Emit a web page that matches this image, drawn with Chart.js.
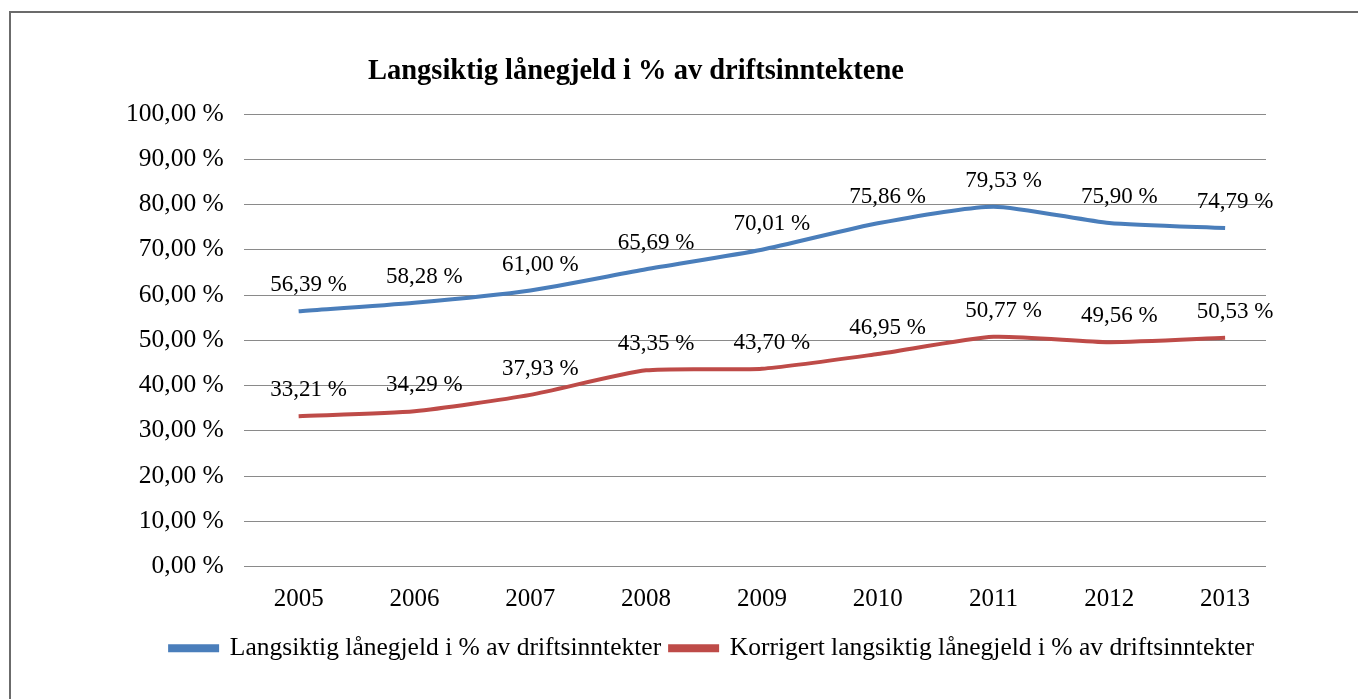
<!DOCTYPE html>
<html lang="no">
<head>
    <meta charset="UTF-8">
    <title>Langsiktig lånegjeld i % av driftsinntektene</title>
    <script src="https://cdn.jsdelivr.net/npm/chart.js@4/dist/chart.umd.min.js"></script>
    <style>
        body {
            margin: 0;
            background: #fff;
            overflow: hidden;
        }
        #wrap {
            position: absolute;
            left: 9px;
            top: 11px;
            width: 1402px;
            height: 700px;
            border-top: 2px solid #6b6b6b;
            border-left: 2px solid #6b6b6b;
        }
    </style>
</head>
<body>
    <div id="wrap"><canvas id="chart" width="1402" height="700"></canvas></div>

    <script>
        const years = [2005, 2006, 2007, 2008, 2009, 2010, 2011, 2012, 2013];
        const gjeld = [56.39, 58.28, 61.00, 65.69, 70.01, 75.86, 79.53, 75.90, 74.79];
        const korrigert = [33.21, 34.29, 37.93, 43.35, 43.70, 46.95, 50.77, 49.56, 50.53];
        const yTicks = [0, 10, 20, 30, 40, 50, 60, 70, 80, 90, 100];

        const serif = '"Liberation Serif", "Times New Roman", serif';
        const pct = v => v.toFixed(2).replace('.', ',') + ' %';

        // value labels above each point, shifted a bit right like in Excel
        const valueLabels = {
            id: 'valueLabels',
            afterDatasetsDraw(chart) {
                const ctx = chart.ctx;
                ctx.save();
                ctx.font = '23px ' + serif;
                ctx.fillStyle = '#000';
                ctx.textAlign = 'center';
                ctx.textBaseline = 'middle';
                chart.data.datasets.forEach((ds, i) => {
                    chart.getDatasetMeta(i).data.forEach((pt, j) => {
                        ctx.fillText(pct(ds.data[j].y), pt.x + 10, pt.y - 26);
                    });
                });
                ctx.restore();
            }
        };

        // title sits left of the plot centre in the original
        const chartTitle = {
            id: 'chartTitle',
            afterDraw(chart) {
                const ctx = chart.ctx;
                ctx.save();
                ctx.font = 'bold 28.5px ' + serif;
                ctx.fillStyle = '#000';
                ctx.textAlign = 'center';
                ctx.textBaseline = 'middle';
                ctx.fillText('Langsiktig lånegjeld i % av driftsinntektene', 625, 59);
                ctx.restore();
            }
        };

        const toPoints = arr => arr.map((v, i) => ({ x: years[i], y: v }));

        new Chart(document.getElementById('chart'), {
            type: 'line',
            data: {
                datasets: [
                    {
                        label: 'Langsiktig lånegjeld i % av driftsinntekter',
                        data: toPoints(gjeld),
                        borderColor: '#4a7ebb',
                        backgroundColor: '#4a7ebb',
                        borderWidth: 4,
                        pointRadius: 0,
                        tension: 0.2
                    },
                    {
                        label: 'Korrigert langsiktig lånegjeld i % av driftsinntekter',
                        data: toPoints(korrigert),
                        borderColor: '#be4b48',
                        backgroundColor: '#be4b48',
                        borderWidth: 4,
                        pointRadius: 0,
                        tension: 0.2
                    }
                ]
            },
            options: {
                responsive: false,
                animation: false,
                layout: {
                    padding: { left: 95, right: 95, top: 101, bottom: 42 }
                },
                scales: {
                    x: {
                        type: 'linear',
                        min: 2004.526,
                        max: 2013.353,
                        afterBuildTicks: s => { s.ticks = years.map(y => ({ value: y })); },
                        afterFit: s => { s.height += 2; },
                        grid: { display: false },
                        border: { display: false },
                        ticks: {
                            padding: 10,
                            color: '#000',
                            font: { family: serif, size: 25 },
                            callback: v => String(v)
                        }
                    },
                    y: {
                        min: 0,
                        max: 100,
                        afterBuildTicks: s => { s.ticks = yTicks.map(v => ({ value: v })); },
                        grid: { color: '#8a8a8a', lineWidth: 1, drawTicks: false },
                        border: { display: false },
                        ticks: {
                            padding: 20,
                            color: '#000',
                            font: { family: serif, size: 25.5 },
                            callback: v => pct(v)
                        }
                    },
                    // empty right-hand spacer so the legend centres like the original
                    spacer: {
                        position: 'right',
                        grid: { display: false },
                        border: { display: false },
                        ticks: { display: false },
                        afterFit: s => { s.width = 52; }
                    }
                },
                plugins: {
                    legend: {
                        position: 'bottom',
                        labels: {
                            boxWidth: 47,
                            boxHeight: 4,
                            padding: 9,
                            color: '#000',
                            font: { family: serif, size: 25.5 }
                        }
                    },
                    tooltip: { enabled: false }
                }
            },
            plugins: [valueLabels, chartTitle]
        });
    </script>
</body>
</html>
